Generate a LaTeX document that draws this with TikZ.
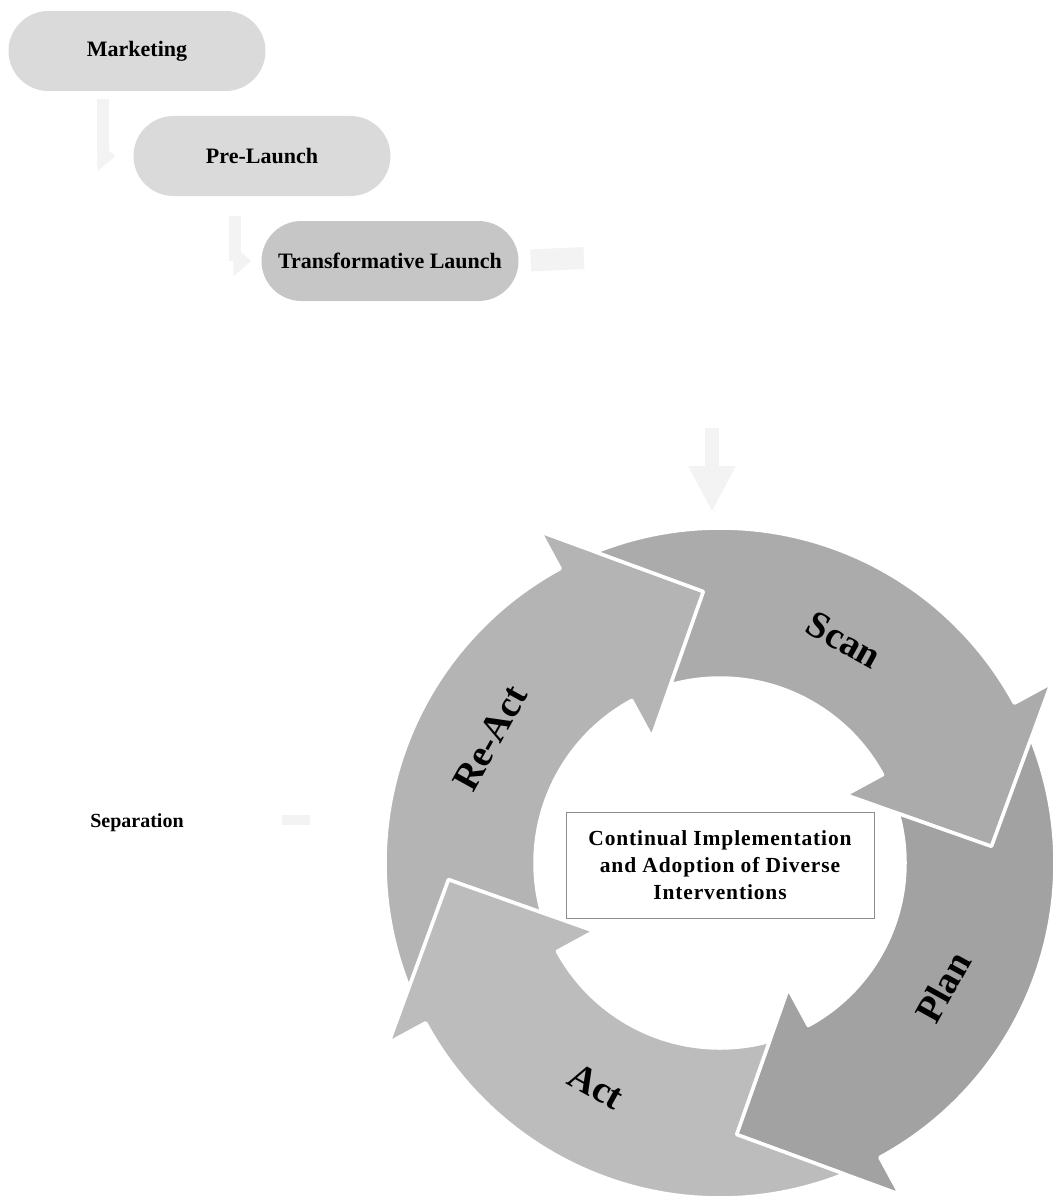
\documentclass[tikz,border=0pt]{standalone}
\usepackage{fontspec}
\setmainfont{Liberation Serif}
\usetikzlibrary{shapes.misc,arrows.meta,calc}

% one block-arc segment of the cycle: tip angle #1, fill colour #2
\newcommand\ringseg[2]{%
  \pgfmathsetmacro\aTail{#1+108.3}%
  \pgfmathsetmacro\aBase{#1+25}%
  \pgfmathsetmacro\aIn{#1+102}%
  \pgfmathsetmacro\aPrev{#1+90}%
  \filldraw[fill=#2, draw=white, line width=3.5pt, line join=round]
    (\aTail:335) -- plot[domain=\aTail:\aBase, samples=80] (\x:335)
    -- (\aBase:377) -- (#1:272) -- (\aBase:143)
    -- plot[domain=\aBase:\aIn, samples=80] (\x:185)
    -- (\aPrev:272) -- cycle;
}

\definecolor{pillA}{HTML}{DADADA}
\definecolor{pillB}{HTML}{C6C6C6}
\definecolor{segReAct}{HTML}{B4B4B4}
\definecolor{segScan}{HTML}{ABABAB}
\definecolor{segPlan}{HTML}{A2A2A2}
\definecolor{segAct}{HTML}{BCBCBC}
\definecolor{faintgray}{HTML}{F3F3F3}

\begin{document}
\begin{tikzpicture}[x=1pt,y=-1pt,
  pill/.style={rounded rectangle, minimum width=257pt, minimum height=80pt,
    inner sep=0pt, font=\fontsize{22}{26}\selectfont\bfseries},
  faint/.style={draw=faintgray, line width=12pt,
    -{Triangle[width=30pt,length=18pt]}},
  seglabel/.style={inner sep=0pt, font=\fontsize{38}{44}\selectfont\bfseries},
  corebox/.style={draw=black!45, line width=0.8pt, fill=white,
    minimum width=308pt, minimum height=106pt, align=center,
    font=\fontsize{21.5}{27}\selectfont\bfseries\addfontfeatures{LetterSpace=4}},
]
\useasboundingbox (0,0) rectangle (1055,1201);
\clip (0,0) rectangle (1055,1201);

% staggered process steps
\node[pill, fill=pillA] (mk) at (137,51) {Marketing};
\node[pill, fill=pillA] (pl) at (262,156) {Pre-Launch};
\node[pill, fill=pillB] (tl) at (390,261) {Transformative Launch};

% faint bent connectors between the steps
\draw[faint, shorten >=18pt, shorten <=8pt] ($(mk.south west)+(54,0)$) |- (pl.west);
\draw[faint, shorten >=10pt, shorten <=20pt] ($(pl.south west)+(61,0)$) |- (tl.west);
\coordinate (tlout) at (584,258);
\draw[draw=faintgray, line width=22pt, shorten <=12pt] (tl.east) -- (tlout);

% faint arrow into the cycle
\coordinate (dtop) at (712,428);
\coordinate (dbot) at (712,512);
\draw[draw=faintgray, line width=14pt, -{Triangle[width=44pt,length=46pt]}] (dtop) -- (dbot);

% the cycle
\begin{scope}[shift={(720,863)}, yscale=-1]
  \ringseg{93.5}{segReAct}
  \ringseg{3.5}{segScan}
  \ringseg{-86.5}{segPlan}
  \ringseg{-176.5}{segAct}
\end{scope}

\node[seglabel, rotate=-29] (scan) at (844,640) {Scan};
\node[seglabel, rotate=61] (plan) at (943,987) {Plan};
\node[seglabel, rotate=-29] (act) at (596,1086) {Act};
\node[seglabel, rotate=61] (react) at (490,738) {Re-Act};

\node[corebox] (core) at (720,865)
  {Continual Implementation\\and Adoption of Diverse\\Interventions};

% separation label with its faint marker
\node[font=\fontsize{20}{24}\selectfont\bfseries] (sep) at (137,823) {Separation};
\coordinate (sepmark) at (310,820);
\draw[draw=faintgray, line width=10pt] ($(sep.east)+(95,-3)$) -- (sepmark);
\end{tikzpicture}
\end{document}
